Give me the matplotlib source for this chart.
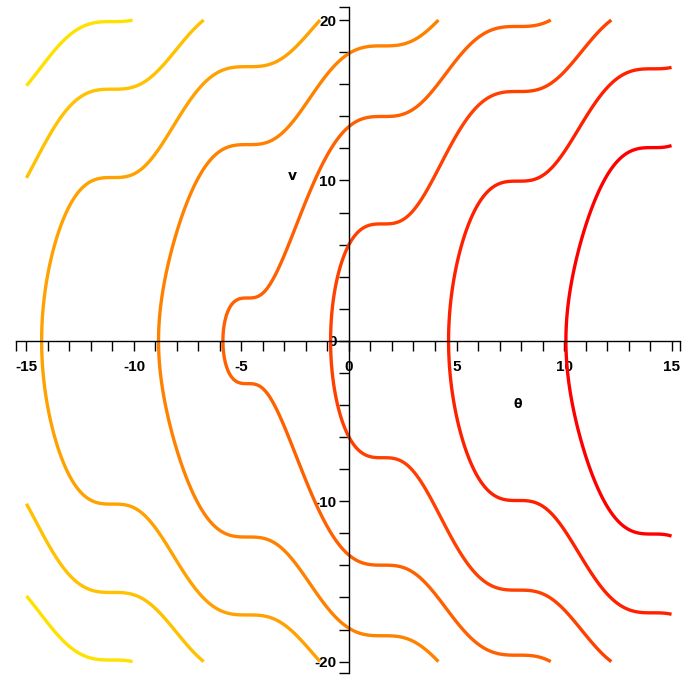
import numpy as np
import matplotlib
matplotlib.use('Agg')
import matplotlib.pyplot as plt
from matplotlib.ticker import FixedLocator

plt.rcParams['axes.unicode_minus'] = False

# plotted region of the contour plot
theta_lo, theta_hi = -15, 15
v_lo, v_hi = -20, 20
# curves are level sets of  theta + cos(theta) - v^2 / v_scale
v_scale = 30.0
levels = [-24.2, -19.2, -14.45, -9.7, -4.95, -0.2, 4.55, 9.3]
colors = ['#ffe100', '#ffc100', '#ffa100', '#ff8100',
          '#ff6000', '#ff4000', '#ff2000', '#ff0000']

xticks = [-15, -10, -5, 0, 5, 10, 15]
yticks = [-20, -10, 0, 10, 20]
xminor = list(range(-15, 16))
yminor = list(range(-20, 21, 2))
x_axis_ends = [-15.47, 15.4]
y_axis_ends = [-20.7, 20.8]

th = np.linspace(theta_lo, theta_hi, 601)
v = np.linspace(v_lo, v_hi, 801)
T, V = np.meshgrid(th, v)
F = T + np.cos(T) - V**2 / v_scale

fig = plt.figure(figsize=(6.84, 6.77), dpi=100)
ax = fig.add_axes([0, 0, 1, 1])
ax.contour(T, V, F, levels=levels, colors=colors, linewidths=2.4)

ax.set_xlim(-16.23, 15.58)
ax.set_ylim(-20.96, 21.25)

for s in ['top', 'right']:
    ax.spines[s].set_visible(False)
ax.spines['left'].set_position(('data', 0))
ax.spines['bottom'].set_position(('data', 0))
ax.spines['bottom'].set_bounds(*x_axis_ends)
ax.spines['left'].set_bounds(*y_axis_ends)
for s in ['left', 'bottom']:
    ax.spines[s].set_linewidth(1.0)

ax.set_xticks(xticks)
ax.set_yticks(yticks)
ax.xaxis.set_minor_locator(FixedLocator(xminor + x_axis_ends))
ax.yaxis.set_minor_locator(FixedLocator(yminor + y_axis_ends))
ax.tick_params(which='both', direction='out', length=7.5, width=1.0)
ax.tick_params(axis='x', which='major', pad=6)
ax.tick_params(axis='y', which='major', pad=1.5)
for lab in ax.get_xticklabels() + ax.get_yticklabels():
    lab.set_fontfamily('Liberation Sans')
    lab.set_fontweight('bold')
    lab.set_fontsize(11)

ax.text(-2.65, 10.3, 'v', fontsize=10, fontweight='bold',
        ha='center', va='center', family='DejaVu Sans')
ax.text(7.86, -4.0, 'θ', fontsize=9, fontweight='bold',
        ha='center', va='center', family='DejaVu Sans')

fig.savefig('out.png', dpi=100)
